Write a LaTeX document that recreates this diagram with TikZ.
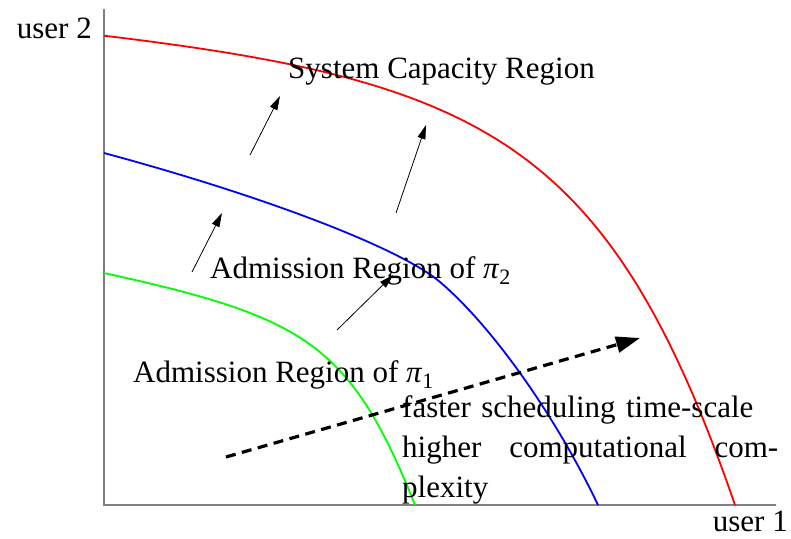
\documentclass[tikz,border=0pt]{standalone}
\usepackage{fontspec}
\setmainfont{Liberation Serif}
\usetikzlibrary{arrows.meta}
% policy symbol with a lowered index, set in the text font
\newcommand{\policy}[1]{\textit{π}\raisebox{-0.22em}{\fontsize{22}{22}\selectfont #1}}
\begin{document}
\begin{tikzpicture}[x=1pt,y=-1pt,
  lbl/.style={inner sep=0pt,font=\fontsize{31}{40}\selectfont},
  axisline/.style={draw=gray,line width=2pt},
  region/.style={line width=1.8pt},
  push/.style={line width=0.8pt,-{Triangle[length=14pt,width=8pt]}},
  trend/.style={line width=3.2pt,dash pattern=on 10pt off 6.5pt,-{Triangle[length=24pt,width=16pt]}}]
\useasboundingbox (0,0) rectangle (791,538);

% axes
\coordinate (top) at (104,9);
\coordinate (origin) at (104,505);
\coordinate (right) at (776,505);
\draw[axisline] (top) -- (origin) -- (right);

% regions
\coordinate (r0) at (104,35.7); \coordinate (r1) at (735,505);
\coordinate (b0) at (104,153);  \coordinate (bk) at (440,282); \coordinate (b1) at (598,505);
\coordinate (g0) at (104,273);  \coordinate (g1) at (415,505);
\draw[region,red]   (r0) .. controls (484,81.3) and (610,142.5) .. (r1);
\draw[region,blue]  (b0) .. controls (266,196.7) and (400.4,248.3) .. (bk)
                         .. controls (492.2,326.4) and (555.4,415.6) .. (b1);
\draw[region,green] (g0) .. controls (304,317) and (350,342.5) .. (g1);

% enlargement arrows
\coordinate (a1s) at (250,155); \coordinate (a1e) at (280,96);
\coordinate (a2s) at (396,213); \coordinate (a2e) at (426,125);
\coordinate (a3s) at (192,272); \coordinate (a3e) at (222,213);
\coordinate (a4s) at (337,330); \coordinate (a4e) at (393,275);
\draw[push] (a1s) -- (a1e);
\draw[push] (a2s) -- (a2e);
\draw[push] (a3s) -- (a3e);
\draw[push] (a4s) -- (a4e);

% time-scale trend
\coordinate (ts) at (226,457); \coordinate (te) at (640,338);
\draw[trend] (ts) -- (te);

% labels
\node[lbl,anchor=base east] (u2) at (92,38) {user 2};
\node[lbl,anchor=base east] (u1) at (788,531) {user 1};
\node[lbl,anchor=base west] (cap) at (288,78) {System Capacity Region};
\node[lbl,anchor=base west] (adm2) at (210,278) {Admission Region of \policy{2}};
\node[lbl,anchor=base west] (adm1) at (133,382) {Admission Region of \policy{1}};
\node[lbl,anchor=north west,text width=376pt,align=left] (note) at (402,395)
  {faster scheduling time-scale\\
   \leavevmode\hbox to 376pt{higher\hfill computational\hfill com-}\\
   plexity};
\end{tikzpicture}
\end{document}
